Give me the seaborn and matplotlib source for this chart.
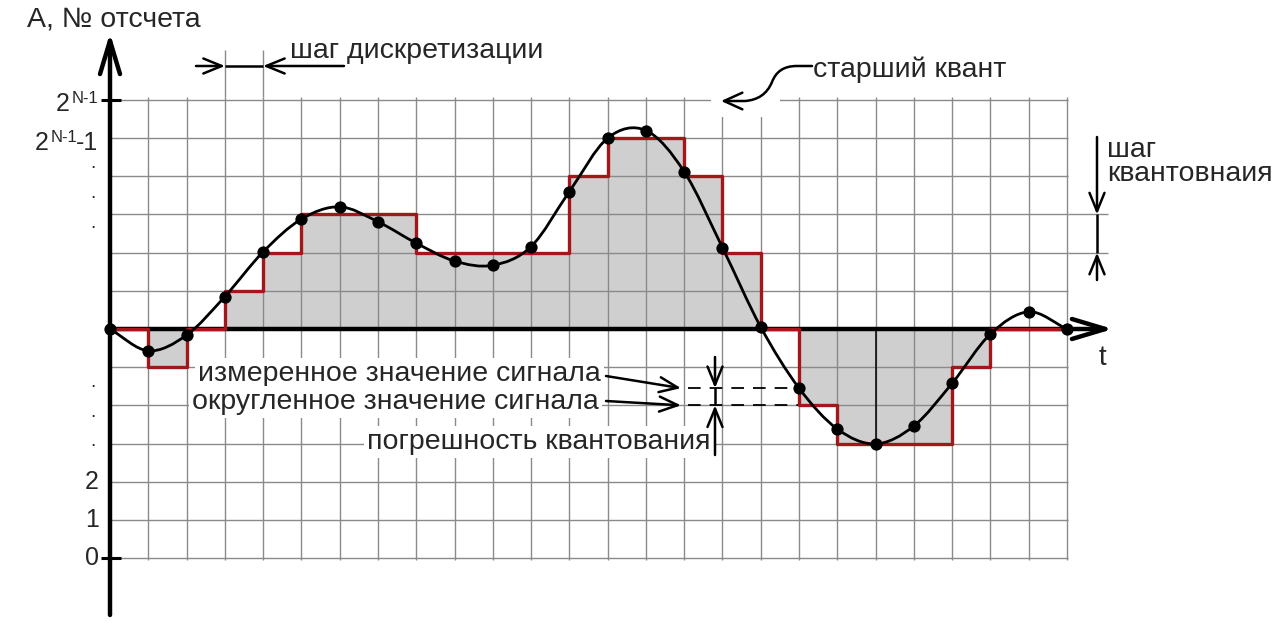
import numpy as np
import pandas as pd
import matplotlib
matplotlib.use("Agg")
import matplotlib.pyplot as plt
import seaborn as sns
from matplotlib.path import Path
from matplotlib.patches import PathPatch, FancyArrowPatch, Rectangle

# ---------------- data ----------------
sample_idx = list(range(26))
signal = [0.0, -0.57, -0.16, 0.85, 2.02, 2.88, 3.20, 2.81, 2.25, 1.78, 1.67, 2.16, 3.60,
          5.00, 5.20, 4.12, 2.13, 0.05, -1.55, -2.62, -3.01, -2.54, -1.42, -0.13, 0.45, 0.0]
quant = [0, -1, 0, 1, 2, 3, 3, 3, 2, 2, 2, 2, 4, 5, 5, 4, 2, 0, -2, -3, -3, -3, -1, 0, 0, 0]
grid_levels = list(range(-6, 7))
bottom_tick_levels = [-4, -5, -6]
bottom_tick_labels = ["2", "1", "0"]
marked_sample = 18          # sample used to explain rounding
extreme_sample = 20         # darker vertical line

# ---------------- figure set-up ----------------
sns.set_style("white")
plt.rcParams["font.family"] = ["Liberation Sans", "DejaVu Sans"]

W, H = 1280, 624
fig = plt.figure(figsize=(12.8, 6.24), dpi=100)
ax = fig.add_axes([0, 0, 1, 1])
X0, DX, Y0, DY = 110.0, 38.28, 329.0, 38.17


def P(xp, yp):
    return ((xp - X0) / DX, (Y0 - yp) / DY)


def PX(xp):
    return (xp - X0) / DX


def PY(yp):
    return (Y0 - yp) / DY


ax.set_xlim(PX(0), PX(W))
ax.set_ylim(PY(H), PY(0))
ax.axis("off")

RED = "#a3171b"
GRID = "#8a8a8a"
FS = 20.5

df = pd.DataFrame({"k": sample_idx, "signal": signal, "level": quant})

# fill under staircase
ax.fill_between(df["k"], df["level"], 0, step="post", color="#cfcfcf", lw=0, zorder=1)

# grid
x_end = PX(1068)
ax.hlines(grid_levels, 0, x_end, color=GRID, lw=1.0, zorder=2)
ax.vlines(sample_idx[1:], PY(560), PY(97), color=GRID, lw=1.0, zorder=2)
# extension lines for annotations
ax.vlines([3, 4], PY(97), PY(50), color=GRID, lw=1.0, zorder=2)
ax.hlines([3, 2], x_end, PX(1108), color=GRID, lw=1.0, zorder=2)
ax.vlines(extreme_sample, quant[extreme_sample], 0, color="black", lw=1.1, zorder=2.5)
# white patch behind the curly arrow
x1, y1 = P(711, 117)
x2, y2 = P(780, 90)
ax.add_patch(Rectangle((x1, y1), x2 - x1, y2 - y1, color="white", lw=0, zorder=2.6))

# axes with arrows
axis_arrow = dict(arrowstyle="->,head_length=1.2,head_width=0.36", lw=3.2, color="black",
                  shrinkA=0, shrinkB=0, mutation_scale=20)
ax.annotate("", xy=P(110, 33), xytext=P(110, 615), arrowprops=axis_arrow, zorder=3)
ax.annotate("", xy=P(1113, 329), xytext=P(110, 329), arrowprops=axis_arrow, zorder=3)
ax.hlines([6, -6], PX(101), PX(121), color="black", lw=2.2, zorder=3)

# staircase (quantized signal)
sns.lineplot(data=df, x="k", y="level", drawstyle="steps-post", color=RED, lw=2.4,
             ax=ax, zorder=4, legend=False, estimator=None, sort=False)

# smooth analogue signal: Catmull-Rom curve through the samples drawn as Bezier path
pts = np.column_stack([df["k"].to_numpy(float), df["signal"].to_numpy(float)])
ext = np.vstack([2 * pts[0] - pts[1], pts, 2 * pts[-1] - pts[-2]])
verts = [tuple(pts[0])]
codes = [Path.MOVETO]
for i in range(1, len(ext) - 2):
    p0, p1, p2, p3 = ext[i - 1], ext[i], ext[i + 1], ext[i + 2]
    verts += [tuple(p1 + (p2 - p0) / 6), tuple(p2 - (p3 - p1) / 6), tuple(p2)]
    codes += [Path.CURVE4] * 3
ax.add_patch(PathPatch(Path(verts, codes), fill=False, lw=2.0, color="black", zorder=5))

sns.scatterplot(data=df, x="k", y="signal", color="black", s=78, edgecolor="black",
                linewidth=0, ax=ax, zorder=6, legend=False)

# ---------------- texts ----------------
def T(xp, yp, s, size=FS, ha="left", va="baseline", bg=False, **kw):
    box = dict(boxstyle="square,pad=0.12", fc="white", ec="none") if bg else None
    ax.text(*P(xp, yp), s, fontsize=size, ha=ha, va=va, bbox=box, zorder=7, **kw)

T(27, 27, "A, № отсчета", size=20.5)
T(290, 58, "шаг дискретизации")
T(813, 77, "старший квант")
T(1107, 157, "шаг")
T(1107, 181, "квантовнаия")
T(1102, 365, "t", ha="center", size=20)
T(198, 381, "измеренное значение сигнала", bg=True)
T(192, 409, "округленное значение сигнала", bg=True)
T(367, 449, "погрешность квантования", bg=True)

# y labels
LS = 18
T(56, 111, "2", size=LS)
T(71.5, 103, "N-1", size=12)
T(35, 150, "2", size=LS)
T(50.5, 142, "N-1", size=12)
T(76, 150, "-1", size=LS)
for yp in [166, 196, 226, 385, 415, 444]:
    T(93, yp + 2, ".", size=14, ha="center")
for lev, lab in zip(bottom_tick_levels, bottom_tick_labels):
    ax.text(PX(99), lev, lab, fontsize=LS, ha="right", va="center", zorder=7)

# ---------------- annotation arrows ----------------
small = dict(arrowstyle="->,head_length=1.1,head_width=0.45", lw=1.8, color="black",
             shrinkA=0, shrinkB=0, mutation_scale=12)
# sampling step
ax.annotate("", xy=P(225, 66), xytext=P(196, 66), arrowprops=small, zorder=7)
ax.annotate("", xy=P(263, 66), xytext=P(344, 66), arrowprops=small, zorder=7)
ax.hlines(PY(66), 3, 4, color="black", lw=1.8, zorder=7)
# measured / rounded value arrows
ax.annotate("", xy=(PX(681), signal[marked_sample]), xytext=P(606, 376), arrowprops=small, zorder=7)
ax.annotate("", xy=(PX(681), quant[marked_sample]), xytext=P(606, 401), arrowprops=small, zorder=7)
ax.hlines([signal[marked_sample], quant[marked_sample]], PX(688), marked_sample,
          color="black", lw=1.3, linestyles=(0, (7, 5)), zorder=3)
# quantisation error arrows
ax.annotate("", xy=(PX(715), signal[marked_sample]), xytext=P(715, 357), arrowprops=small, zorder=7)
ax.annotate("", xy=(PX(715), quant[marked_sample]), xytext=P(715, 455), arrowprops=small, zorder=7)
ax.vlines(PX(715), quant[marked_sample], signal[marked_sample], color="black", lw=1.8, zorder=7)
# quantisation step arrows
ax.annotate("", xy=(PX(1097), 3), xytext=P(1097, 137), arrowprops=small, zorder=7)
ax.annotate("", xy=(PX(1097), 2), xytext=P(1097, 280), arrowprops=small, zorder=7)
ax.vlines(PX(1097), 2, 3, color="black", lw=1.8, zorder=7)
# curly arrow to the top quantum
cv = [P(812, 66), P(797, 66), P(783, 66), P(776, 72), P(772, 82),
      P(767, 94), P(758, 100), P(745, 101), P(721, 101)]
cc = [Path.MOVETO, Path.LINETO, Path.CURVE4, Path.CURVE4, Path.CURVE4,
      Path.CURVE4, Path.CURVE4, Path.CURVE4, Path.LINETO]
ax.add_patch(FancyArrowPatch(path=Path(cv, cc), arrowstyle="->,head_length=1.1,head_width=0.5",
                             mutation_scale=12, lw=1.8, color="black", zorder=7))

fig.savefig("out.png", dpi=100)
